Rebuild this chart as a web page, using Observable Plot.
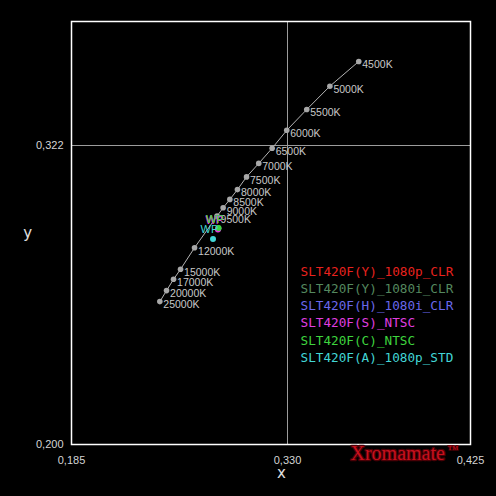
<!DOCTYPE html>
<html>
<head>
<meta charset="utf-8">
<script src="https://cdn.jsdelivr.net/npm/d3@7"></script>
<script src="https://cdn.jsdelivr.net/npm/@observablehq/plot@0.6"></script>
<style>
  html, body { margin: 0; padding: 0; background: #000; overflow: hidden; }
</style>
</head>
<body>
<div id="chart"></div>
<script>
// Colour-temperature locus points
const cctLabels = ["4500K","5000K","5500K","6000K","6500K","7000K","7500K","8000K","8500K","9000K","9500K","12000K","15000K","17000K","20000K","25000K"];
const cctX = [0.3670,0.3520,0.3400,0.3295,0.3197,0.3107,0.3025,0.2964,0.2913,0.2868,0.2827,0.2676,0.2582,0.2535,0.2488,0.2443];
const cctY = [0.3563,0.3462,0.3367,0.3282,0.3209,0.3147,0.3092,0.3040,0.3000,0.2966,0.2932,0.2803,0.2715,0.2674,0.2628,0.2583];

// Measured white points, one per series
const seriesNames = ["SLT420F(Y)_1080p_CLR","SLT420F(Y)_1080i_CLR","SLT420F(H)_1080i_CLR","SLT420F(S)_NTSC","SLT420F(C)_NTSC","SLT420F(A)_1080p_STD"];
const wpX = [0.2835,0.2836,0.2835,0.2833,0.2837,0.2800];
const wpY = [0.2881,0.2882,0.2881,0.2877,0.2883,0.2839];

// Tick labels
const xTicks = [0.185, 0.330, 0.425];
const yTicks = [0.200, 0.322];
const crossX = 0.330;
const crossY = 0.322;

const seriesColors = ["#e8221e","#54885f","#6a68ec","#e03ee0","#3ed43e","#42d6d6"];

const locus = cctLabels.map((label, i) => ({label, x: cctX[i], y: cctY[i]}));
const wp = seriesNames.map((name, i) => ({name, color: seriesColors[i], x: wpX[i], y: wpY[i]}));
const fmt = d => d3.format(".3f")(d).replace(".", ",");

// The x axis of the original is piecewise: 0.185 | 0.330 | 0.425 at uneven spacing
const xPiece = d3.scaleLinear().domain(xTicks).range([0, 216, 399]);

const chart = Plot.plot({
  width: 496,
  height: 496,
  marginLeft: 71,
  marginRight: 26,
  marginTop: 21,
  marginBottom: 52,
  style: {background: "#000", color: "#ccc", fontFamily: "'Liberation Sans', Arial, sans-serif"},
  x: {transform: d => xPiece(d), domain: [0, 399], axis: null},
  y: {domain: [0.200, 0.3726], axis: null},
  color: {type: "identity"},
  marks: [
    Plot.ruleX([crossX], {stroke: "#9c9c9c", strokeWidth: 1}),
    Plot.ruleY([crossY], {stroke: "#9c9c9c", strokeWidth: 1}),
    Plot.frame({stroke: "#ffffff", strokeWidth: 1.5}),
    Plot.line(locus, {x: "x", y: "y", stroke: "#b4b4b4", strokeWidth: 1}),
    Plot.dot(locus, {x: "x", y: "y", r: 2.8, fill: "#a8a8a8"}),
    Plot.text(locus, {x: "x", y: "y", text: "label", textAnchor: "start", lineAnchor: "middle", dx: 3.5, dy: 3.5, fill: "#c8c8c8", fontSize: 10.5}),
    Plot.dot(wp, {x: "x", y: "y", r: 3, fill: "color"}),
    Plot.text(wp, {x: "x", y: "y", text: () => "WP", fill: "color", dx: -12.5, dy: -9, textAnchor: "start", lineAnchor: "middle", fontSize: 11}),
    ...seriesNames.map((name, i) => Plot.text([name], {
      frameAnchor: "top-left", dx: 229, dy: 250 + i * 17.26, text: d => d,
      fill: seriesColors[i], fontFamily: "'DejaVu Sans Mono', monospace", fontSize: 12.7,
      textAnchor: "start", lineAnchor: "middle"
    })),
    Plot.text(xTicks, {x: d => d, frameAnchor: "bottom", dy: 16, text: fmt, fill: "#d4d4d4", fontSize: 11, lineAnchor: "middle"}),
    Plot.text(yTicks, {y: d => d, frameAnchor: "left", dx: -8, dy: -0.5, text: fmt, fill: "#d4d4d4", fontSize: 11, textAnchor: "end", lineAnchor: "middle"}),
    Plot.text(["x"], {frameAnchor: "bottom", dx: 10.5, dy: 29, text: d => d, fill: "#e0e0e0", fontSize: 15, fontFamily: "'DejaVu Sans', sans-serif", lineAnchor: "middle"}),
    Plot.text(["y"], {frameAnchor: "left", dx: -48.3, dy: 0, text: d => d, fill: "#e0e0e0", fontSize: 15, fontFamily: "'DejaVu Sans', sans-serif", lineAnchor: "middle"}),
    Plot.text(["Xromamate"], {frameAnchor: "bottom-right", dx: -120, dy: 15, text: d => d, textAnchor: "start", lineAnchor: "bottom",
      fontFamily: "'Liberation Serif', 'DejaVu Serif', serif", fontSize: 20, fill: "#c8101e", stroke: "#4a0006", strokeWidth: 2.5}),
    Plot.text(["™"], {frameAnchor: "bottom-right", dx: -23, dy: 8, text: d => d, textAnchor: "start", lineAnchor: "bottom",
      fontFamily: "'Liberation Serif', 'DejaVu Serif', serif", fontSize: 11, fill: "#c8101e", stroke: "#4a0006", strokeWidth: 1.5})
  ]
});
document.getElementById("chart").appendChild(chart);
</script>
</body>
</html>
